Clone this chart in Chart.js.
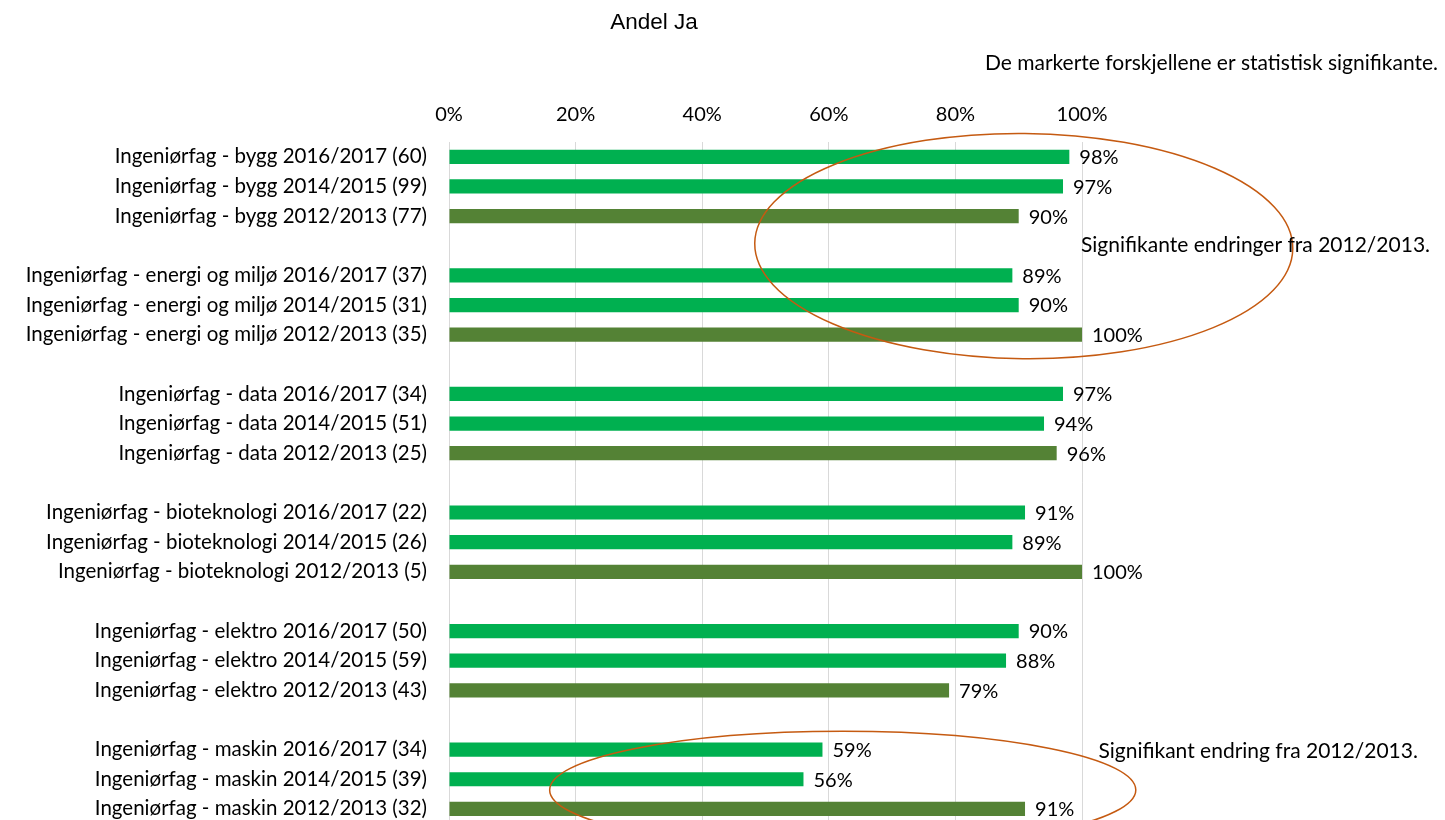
<!DOCTYPE html>
<html>
<head>
<meta charset="utf-8">
<script src="https://cdn.jsdelivr.net/npm/chart.js@4/dist/chart.umd.min.js"></script>
<style>
  html, body { margin: 0; padding: 0; background: #fff; overflow: hidden; }
  canvas { display: block; }
</style>
</head>
<body>
<canvas id="myChart" width="1445" height="858"></canvas>
<script>
// category labels, blank strings are the gaps between groups
const categories = [
  'Ingeniørfag - bygg 2016/2017 (60)',
  'Ingeniørfag - bygg 2014/2015 (99)',
  'Ingeniørfag - bygg 2012/2013 (77)',
  '',
  'Ingeniørfag - energi og miljø 2016/2017 (37)',
  'Ingeniørfag - energi og miljø 2014/2015 (31)',
  'Ingeniørfag - energi og miljø 2012/2013 (35)',
  '',
  'Ingeniørfag - data 2016/2017 (34)',
  'Ingeniørfag - data 2014/2015 (51)',
  'Ingeniørfag - data 2012/2013 (25)',
  '',
  'Ingeniørfag - bioteknologi 2016/2017 (22)',
  'Ingeniørfag - bioteknologi 2014/2015 (26)',
  'Ingeniørfag - bioteknologi 2012/2013 (5)',
  '',
  'Ingeniørfag - elektro 2016/2017 (50)',
  'Ingeniørfag - elektro 2014/2015 (59)',
  'Ingeniørfag - elektro 2012/2013 (43)',
  '',
  'Ingeniørfag - maskin 2016/2017 (34)',
  'Ingeniørfag - maskin 2014/2015 (39)',
  'Ingeniørfag - maskin 2012/2013 (32)'
];

// share answering "Ja", in percent
const andelJa = [
  98, 97, 90, null,
  89, 90, 100, null,
  97, 94, 96, null,
  91, 89, 100, null,
  90, 88, 79, null,
  59, 56, 91
];

const tickLabels = ['0%', '20%', '40%', '60%', '80%', '100%'];

const lightGreen = '#00B050';
const darkGreen = '#548235';
const ringColor = '#C55A11';
const FONT = 'Lato, "Open Sans", sans-serif';

const barColors = categories.map(c => c.indexOf('2012/2013') >= 0 ? darkGreen : lightGreen);

// value labels + annotations
const extras = {
  id: 'extras',
  afterDatasetsDraw(chart) {
    const { ctx } = chart;
    const xs = chart.scales.x;
    const ys = chart.scales.y;
    const meta = chart.getDatasetMeta(0);

    ctx.save();
    ctx.font = '20px ' + FONT;
    ctx.fillStyle = '#000';
    ctx.textAlign = 'left';
    ctx.textBaseline = 'middle';
    meta.data.forEach((bar, i) => {
      const v = andelJa[i];
      if (v === null) return;
      ctx.fillText(v + '%', bar.x + 10, bar.y + 1);
    });

    // ellipses
    ctx.strokeStyle = ringColor;
    ctx.lineWidth = 1.5;
    const step = ys.getPixelForValue(1) - ys.getPixelForValue(0);
    const pct = xs.getPixelForValue(1) - xs.getPixelForValue(0);

    ctx.beginPath();
    ctx.ellipse(xs.getPixelForValue(90.8), ys.getPixelForValue(3.01),
      42.5 * pct, 3.8 * step, 0.01, 0, Math.PI * 2);
    ctx.stroke();

    ctx.beginPath();
    ctx.ellipse(xs.getPixelForValue(62.2), ys.getPixelForValue(21.36),
      46.3 * pct, 1.98 * step, 0, 0, Math.PI * 2);
    ctx.stroke();

    // notes
    ctx.fillStyle = '#000';
    ctx.font = '21px ' + FONT;
    ctx.fillText('Signifikante endringer fra 2012/2013.', xs.getPixelForValue(100) - 1, ys.getPixelForValue(2.97));
    ctx.fillText('Signifikant endring fra 2012/2013.', xs.getPixelForValue(102.6), ys.getPixelForValue(20.05));

    ctx.textAlign = 'right';
    ctx.fillText('De markerte forskjellene er statistisk signifikante.', 1438, 63);

    ctx.textAlign = 'center';
    ctx.font = '22.5px "Liberation Sans", Arial, sans-serif';
    ctx.fillText('Andel Ja', 654, 23);
    ctx.restore();
  }
};

const chart = new Chart(document.getElementById('myChart'), {
  type: 'bar',
  data: {
    labels: categories,
    datasets: [{
      label: 'Andel Ja',
      data: andelJa,
      backgroundColor: barColors,
      borderWidth: 0,
      categoryPercentage: 1,
      barPercentage: 0.48
    }]
  },
  options: {
    indexAxis: 'y',
    responsive: false,
    animation: false,
    layout: { padding: { left: 0, right: 363, top: 0, bottom: 0 } },
    plugins: {
      legend: { display: false },
      tooltip: { enabled: false }
    },
    scales: {
      x: {
        position: 'top',
        min: 0,
        max: 100,
        ticks: {
          stepSize: 20,
          padding: 15,
          color: '#000',
          font: { family: FONT, size: 20 },
          callback: (v, i) => tickLabels[i]
        },
        grid: { color: '#d9d9d9', drawTicks: false },
        border: { display: false },
        afterFit: s => { s.height = 142; }
      },
      y: {
        ticks: {
          padding: 22,
          color: '#000',
          font: { family: FONT, size: 20.5 },
          autoSkip: false
        },
        grid: { display: false, drawTicks: false },
        border: { color: '#d9d9d9' },
        afterFit: s => { s.width = 449; }
      }
    }
  },
  plugins: [extras]
});
</script>
</body>
</html>
